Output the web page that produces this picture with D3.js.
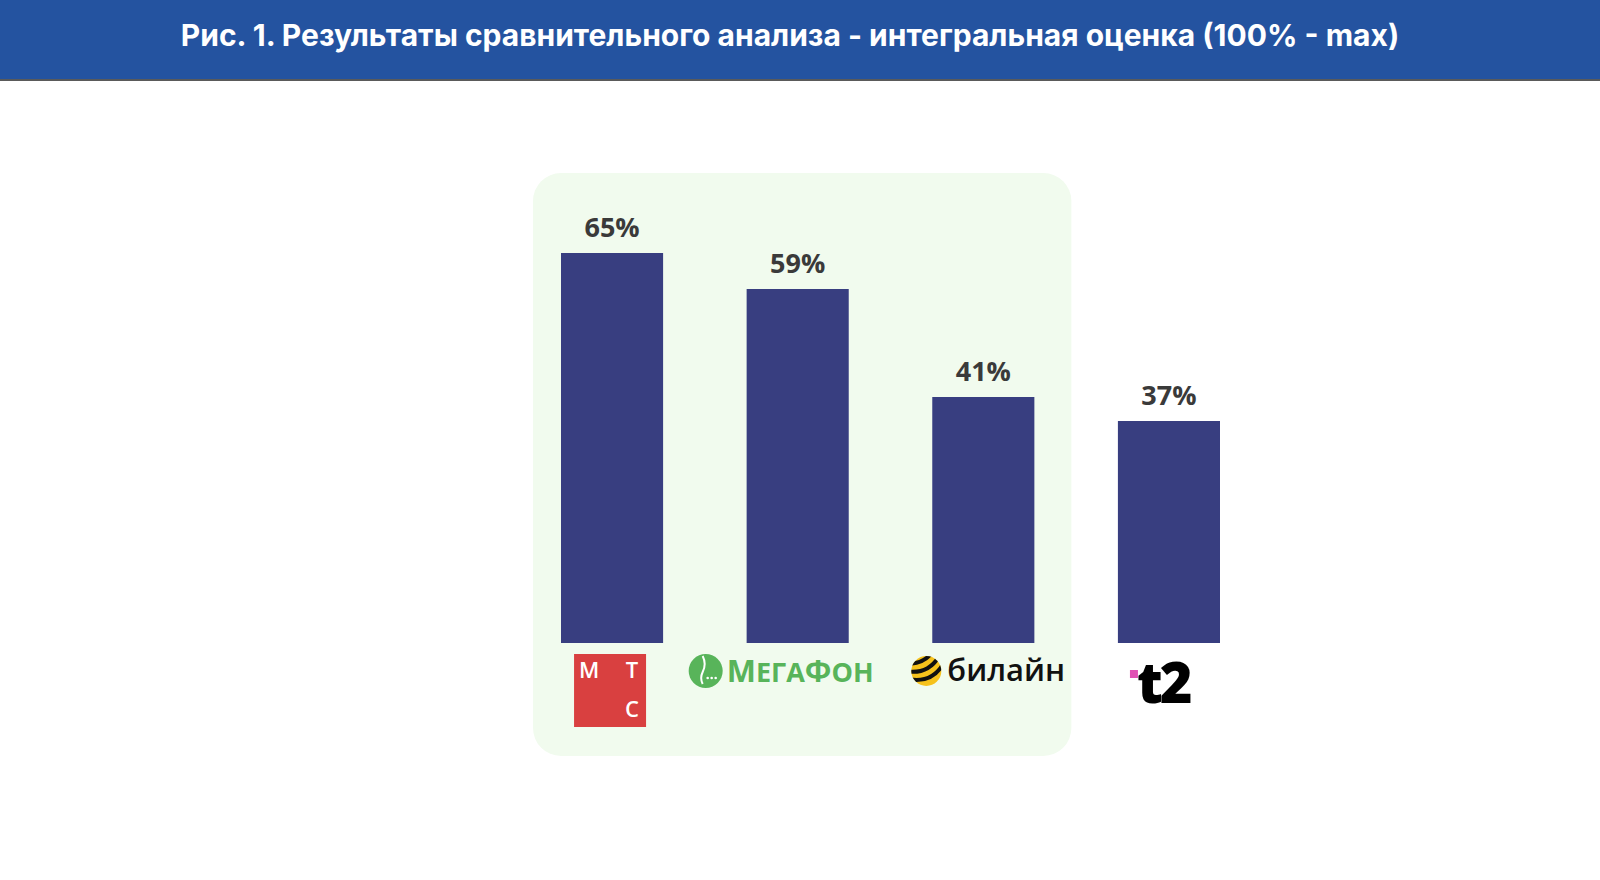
<!DOCTYPE html>
<html>
<head>
<meta charset="utf-8">
<script src="https://cdn.jsdelivr.net/npm/d3@7"></script>
<style>
  body { margin: 0; background: #fff; }
  svg { display: block; }
</style>
</head>
<body>
<svg id="chart"></svg>
<script>
// data
var operators = ["МТС", "МегаФон", "билайн", "t2"];
var scores = [65, 59, 41, 37];
var title = "Рис. 1. Результаты сравнительного анализа - интегральная оценка (100% - max)";

var width = 1600, height = 880;

var svg = d3.select("#chart")
    .attr("width", width)
    .attr("height", height);

// header
svg.append("rect")
    .attr("x", 0).attr("y", 0)
    .attr("width", width).attr("height", 79)
    .attr("fill", "#2453a0");
svg.append("rect")
    .attr("x", 0).attr("y", 79)
    .attr("width", width).attr("height", 2)
    .attr("fill", "#5a5a5a");
svg.append("text")
    .attr("x", 790).attr("y", 46)
    .attr("text-anchor", "middle")
    .attr("fill", "#fff")
    .style("font-family", "Inter, Roboto, sans-serif")
    .style("font-weight", 700)
    .style("font-size", "30px")
    .text(title);

// scales
var x = d3.scaleBand()
    .domain(operators)
    .range([561, 1220])
    .paddingInner(0.45)
    .paddingOuter(0);

var y = d3.scaleLinear()
    .domain([0, 100])
    .range([643, 43]);

// light green panel behind first three operators
svg.append("rect")
    .attr("x", x("МТС") - 28)
    .attr("y", 173)
    .attr("width", x("билайн") + x.bandwidth() + 37 - (x("МТС") - 28))
    .attr("height", 583)
    .attr("rx", 28)
    .attr("fill", "#f1fbee");

// bars
svg.selectAll(".bar")
    .data(scores)
    .enter().append("rect")
    .attr("class", "bar")
    .attr("x", function(d, i) { return x(operators[i]); })
    .attr("y", function(d) { return y(d); })
    .attr("width", x.bandwidth())
    .attr("height", function(d) { return y(0) - y(d); })
    .attr("fill", "#383e80");

// value labels
svg.selectAll(".value")
    .data(scores)
    .enter().append("text")
    .attr("class", "value")
    .attr("x", function(d, i) { return x(operators[i]) + x.bandwidth() / 2; })
    .attr("y", function(d) { return y(d) - 16; })
    .attr("text-anchor", "middle")
    .attr("fill", "#3a3a3a")
    .style("font-family", "'Open Sans', sans-serif")
    .style("font-weight", 700)
    .style("font-size", "27px")
    .text(function(d) { return d + "%"; });

// logos under the bars
var defs = svg.append("defs");

function drawLogo(name) {
  var cx = x(name) + x.bandwidth() / 2;
  var g = svg.append("g").attr("class", "logo");

  if (name == "МТС") {
    var sx = cx - 38, sy = 654;
    g.append("rect")
      .attr("x", sx).attr("y", sy)
      .attr("width", 72).attr("height", 73)
      .attr("fill", "#d94040");
    var letters = [["М", sx + 15, sy + 24], ["Т", sx + 58, sy + 24], ["С", sx + 58, sy + 63]];
    letters.forEach(function(l) {
      g.append("text")
        .attr("x", l[1]).attr("y", l[2])
        .attr("text-anchor", "middle")
        .attr("fill", "#fff")
        .style("font-family", "'Open Sans', sans-serif")
        .style("font-weight", 600)
        .style("font-size", "22px")
        .text(l[0]);
    });
  }

  if (name == "МегаФон") {
    var mx = cx - 92, my = 671;
    g.append("circle")
      .attr("cx", mx).attr("cy", my).attr("r", 17)
      .attr("fill", "#58b45a");
    g.append("path")
      .attr("d", "M " + (mx - 3) + " " + (my - 15) + " q 4 8 0 16 q -3 6 0 12")
      .attr("fill", "none")
      .attr("stroke", "#fff")
      .attr("stroke-width", 2);
    [0, 4, 8].forEach(function(dx) {
      g.append("circle")
        .attr("cx", mx + 2 + dx).attr("cy", my + 7).attr("r", 1.3)
        .attr("fill", "#fff");
    });
    var t = g.append("text")
      .attr("x", mx + 21).attr("y", my + 11)
      .attr("fill", "#58b45a")
      .style("font-family", "'Open Sans', sans-serif")
      .style("font-weight", 700)
      .style("font-size", "31px");
    t.append("tspan").text("М");
    t.append("tspan").style("font-size", "27px").text("ЕГА");
    t.append("tspan").text("Ф");
    t.append("tspan").style("font-size", "27px").text("ОН");
  }

  if (name == "билайн") {
    var bx = cx - 57, by = 671;
    defs.append("clipPath").attr("id", "ballclip")
      .append("circle").attr("cx", bx).attr("cy", by).attr("r", 15);
    g.append("circle")
      .attr("cx", bx).attr("cy", by).attr("r", 15)
      .attr("fill", "#f6c21c");
    var stripes = g.append("g").attr("clip-path", "url(#ballclip)")
      .append("g").attr("transform", "rotate(-25," + bx + "," + by + ")");
    [-9, 0, 9].forEach(function(o) {
      stripes.append("path")
        .attr("d", "M " + (bx - 18) + " " + (by + o - 8) + " Q " + bx + " " + (by + o + 4) + " " + (bx + 18) + " " + (by + o - 8))
        .attr("fill", "none")
        .attr("stroke", "#111")
        .attr("stroke-width", 4);
    });
    g.append("text")
      .attr("x", bx + 21).attr("y", by + 10)
      .attr("fill", "#111")
      .style("font-family", "'Open Sans', sans-serif")
      .style("font-weight", 600)
      .style("font-size", "31px")
      .text("билайн");
  }

  if (name == "t2") {
    var tx = cx - 39;
    g.append("rect")
      .attr("x", tx).attr("y", 670)
      .attr("width", 8).attr("height", 8)
      .attr("fill", "#e052b4");
    g.append("text")
      .attr("x", tx + 7).attr("y", 703)
      .attr("fill", "#000")
      .style("font-family", "'Open Sans', sans-serif")
      .style("font-weight", 800)
      .style("font-size", "56px")
      .style("letter-spacing", "-3px")
      .text("t2");
  }
}

operators.forEach(drawLogo);
</script>
</body>
</html>
